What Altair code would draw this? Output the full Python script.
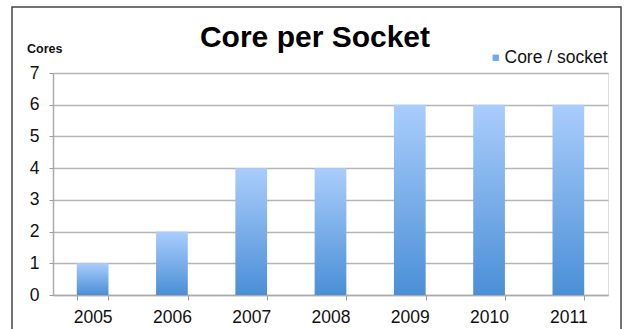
import altair as alt
import pandas as pd

years = ["2005", "2006", "2007", "2008", "2009", "2010", "2011"]
cores = [1, 2, 4, 4, 6, 6, 6]
series_name = "Core / socket"
title_text = "Core per Socket"
y_title = "Cores"

df = pd.DataFrame({"year": years, "cores": cores, "series": [series_name] * len(years)})

FONT = "Liberation Sans"

gradient = alt.Gradient(
    gradient="linear",
    stops=[alt.GradientStop(color="#aacdfc", offset=0),
           alt.GradientStop(color="#4a8fd7", offset=1)],
    x1=0, x2=0, y1=0, y2=1,
)

x_enc = alt.X(
    "year:N",
    sort=years,
    scale=alt.Scale(paddingInner=0.6, paddingOuter=0.3),
    axis=alt.Axis(
        title=None, labelAngle=0, labelFont=FONT, labelFontSize=17.5,
        labelColor="#111", labelPadding=8, tickBand="extent", tickSize=5,
        tickColor="#999", domainColor="#aaa", domainWidth=1.5, grid=False,
        labelOverlap=False,
    ),
)
y_enc = alt.Y(
    "cores:Q",
    scale=alt.Scale(domain=[0, 7], nice=False),
    axis=alt.Axis(
        title=None, values=[0, 1, 2, 3, 4, 5, 6, 7], labelFont=FONT,
        labelFontSize=17.5, labelColor="#111", labelPadding=10, tickSize=4,
        tickColor="#999", domainColor="#aaa", domainWidth=1.5,
        gridColor="#b5b5b5", gridWidth=1.5, labelOverlap=False,
        labelFlush=False,
    ),
)

bars = alt.Chart(df).mark_bar(color=gradient).encode(x=x_enc, y=y_enc)

legend_layer = alt.Chart(df).mark_bar(opacity=0).encode(
    x=x_enc,
    y=y_enc,
    color=alt.Color(
        "series:N",
        scale=alt.Scale(range=["#6fa8ef"]),
        legend=alt.Legend(
            title=None, orient="none", legendX=434, legendY=-24,
            symbolType="square", symbolSize=40, symbolOpacity=1,
            symbolStrokeWidth=0, labelFont=FONT, labelFontSize=17.5,
            labelColor="#111", labelOffset=0, padding=0,
        ),
    ),
)

title_df = pd.DataFrame({"t": [title_text]})
title_layer = alt.Chart(title_df).mark_text(
    font=FONT, fontSize=30, fontWeight="bold", color="#000",
    align="center", baseline="alphabetic",
).encode(text="t:N", x=alt.value(262), y=alt.value(-26))

ytitle_df = pd.DataFrame({"t": [y_title]})
ytitle_layer = alt.Chart(ytitle_df).mark_text(
    font=FONT, fontSize=12.5, fontWeight="bold", color="#111",
    align="left", baseline="alphabetic",
).encode(text="t:N", x=alt.value(-26), y=alt.value(-20))

frame_df = pd.DataFrame({"k": [0]})
frame = alt.Chart(frame_df).mark_rect(
    fill=None, fillOpacity=0, stroke="#444", strokeWidth=1.5
).encode(x=alt.value(-41), x2=alt.value(568), y=alt.value(-66), y2=alt.value(300))

chart = alt.layer(frame, bars, legend_layer, title_layer, ytitle_layer).properties(
    width=555, height=222,
    autosize=alt.AutoSizeParams(type="none"),
    padding={"left": 53, "top": 73, "right": 18, "bottom": 34},
).configure_view(stroke=None).configure(background="white")

chart.save("out.html", embed_options={"renderer": "svg", "actions": False})
